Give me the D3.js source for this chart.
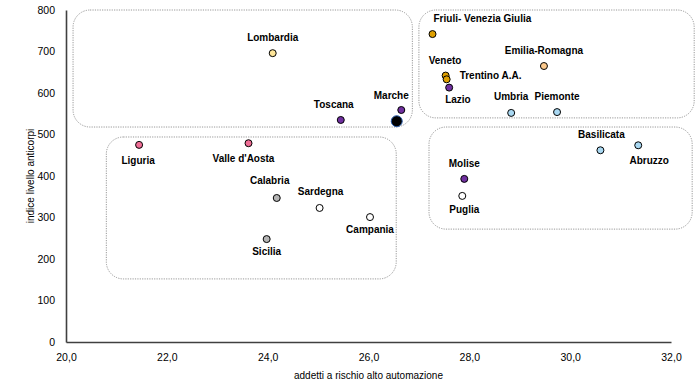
<!doctype html>
<html lang="it">
<head>
<meta charset="UTF-8">
<title>Scatter</title>
<script src="https://cdn.jsdelivr.net/npm/d3@7"></script>
<style>
  body { margin: 0; background: #fff; }
  text { font-family: "Liberation Sans Narrow", "Arial Narrow", "Liberation Sans", Arial, sans-serif; }
</style>
</head>
<body>
<svg width="700" height="384" id="chart"></svg>
<script>
// regions
var regions = ['Lombardia', 'Toscana', 'Liguria', "Valle d'Aosta", 'Calabria', 'Sardegna', 'Sicilia', 'Campania',
  'Marche', 'Italia', 'Friuli- Venezia Giulia', 'Veneto', 'Trentino A.A.', 'Lazio', 'Emilia-Romagna',
  'Umbria', 'Piemonte', 'Basilicata', 'Abruzzo', 'Molise', 'Puglia'];
// addetti a rischio alto automazione (%)
var automazione = [24.1, 25.45, 21.45, 23.62, 24.18, 25.03, 23.98, 26.03,
  26.65, 26.56, 27.27, 27.53, 27.55, 27.6, 29.48,
  28.83, 29.74, 30.6, 31.35, 27.9, 27.86];
// indice livello anticorpi
var anticorpi = [696, 535, 475, 479, 347, 323, 248, 301,
  559, 532, 742, 642, 633, 613, 665,
  552, 554, 462, 474, 393, 352];
// colour group of each region
var gruppo = ['lomb', 'viola', 'rosa', 'rosa', 'grigio', 'bianco', 'grigio', 'bianco',
  'viola', 'italia', 'oro', 'oro', 'oro', 'viola', 'pesca',
  'azzurro', 'azzurro', 'azzurro', 'azzurro', 'viola', 'bianco'];

var xTicks = [20, 22, 24, 26, 28, 30, 32];
var yTicks = [0, 100, 200, 300, 400, 500, 600, 700, 800];

// dotted cluster boxes, in data units [x0, x1, y0, y1]
var boxes = [
  [20.14, 26.87, 518, 800],
  [27.0, 32.46, 540, 800],
  [20.8, 26.55, 152, 494],
  [27.2, 32.42, 272, 518]
];

var colori = {
  lomb: '#ffe699', viola: '#7030a0', rosa: '#f06e96', grigio: '#b4b4b4', bianco: '#ffffff',
  italia: '#000000', oro: '#dfa000', pesca: '#fcc98c', azzurro: '#a9d8f2'
};

// label placement: anchor, dx, dy
var etichette = {
  'Lombardia': ['middle', 0, -12], 'Toscana': ['middle', -7, -12], 'Liguria': ['middle', -1, 19],
  "Valle d'Aosta": ['middle', -5, 19], 'Calabria': ['middle', -7, -14], 'Sardegna': ['middle', 1, -13],
  'Sicilia': ['middle', 0, 16], 'Campania': ['middle', 0, 16], 'Marche': ['middle', -10, -11],
  'Italia': null, 'Friuli- Venezia Giulia': ['start', 1, -12], 'Veneto': ['start', -17, -12],
  'Trentino A.A.': ['start', 13, 0], 'Lazio': ['start', -4, 15], 'Emilia-Romagna': ['middle', 0, -12],
  'Umbria': ['middle', 0, -13], 'Piemonte': ['middle', 0, -12], 'Basilicata': ['middle', 1, -12],
  'Abruzzo': ['middle', 11, 19], 'Molise': ['middle', 0, -12], 'Puglia': ['middle', 2, 17]
};

var svg = d3.select('#chart'),
  margin = {top: 10, right: 29, bottom: 42, left: 66},
  width = +svg.attr('width') - margin.left - margin.right,
  height = +svg.attr('height') - margin.top - margin.bottom;

var x = d3.scaleLinear().domain([20, 32]).range([0, width]),
  y = d3.scaleLinear().domain([0, 800]).range([height, 0]);

var g = svg.append('g').attr('transform', 'translate(' + margin.left + ',' + margin.top + ')');

g.selectAll('.box').data(boxes).enter().append('rect').attr('class', 'box')
  .attr('x', function (d) { return x(d[0]); })
  .attr('y', function (d) { return y(d[3]); })
  .attr('width', function (d) { return x(d[1]) - x(d[0]); })
  .attr('height', function (d) { return y(d[2]) - y(d[3]); })
  .attr('rx', 17).attr('ry', 17)
  .attr('fill', 'none')
  .attr('stroke', '#8c8c8c')
  .attr('stroke-width', 0.9)
  .attr('stroke-dasharray', '1.2,1.2');

var fmt = function (d) { return d3.format('.1f')(d).replace('.', ','); };

var xAxis = g.append('g')
  .attr('transform', 'translate(0,' + height + ')')
  .call(d3.axisBottom(x).tickValues(xTicks).tickSize(0).tickPadding(12).tickFormat(fmt));
var yAxis = g.append('g')
  .call(d3.axisLeft(y).tickValues(yTicks).tickSize(0).tickPadding(11));

[xAxis, yAxis].forEach(function (a) {
  a.select('.domain').attr('stroke', '#404040').attr('stroke-width', 1.6);
  a.selectAll('text').attr('font-size', 10.5).attr('fill', '#000');
});

g.append('text')
  .attr('x', width / 2).attr('y', height + 37)
  .attr('text-anchor', 'middle').attr('font-size', 10)
  .text('addetti a rischio alto automazione');

g.append('text')
  .attr('transform', 'rotate(-90)')
  .attr('x', -y(400)).attr('y', -32)
  .attr('text-anchor', 'middle').attr('font-size', 10)
  .text('indice livello anticorpi');

var data = regions.map(function (r, i) {
  return {name: r, x: automazione[i], y: anticorpi[i], group: gruppo[i]};
});

g.selectAll('.dot').data(data).enter().append('circle').attr('class', 'dot')
  .attr('cx', function (d) { return x(d.x); })
  .attr('cy', function (d) { return y(d.y); })
  .attr('r', function (d) { return d.group === 'italia' ? 5.5 : 3.5; })
  .attr('fill', function (d) { return colori[d.group]; })
  .attr('stroke', function (d) { return d.group === 'italia' ? '#2a5caa' : '#000'; })
  .attr('stroke-width', 1);

g.selectAll('.lbl').data(data.filter(function (d) { return etichette[d.name]; }))
  .enter().append('text').attr('class', 'lbl')
  .attr('x', function (d) { return x(d.x) + etichette[d.name][1]; })
  .attr('y', function (d) { return y(d.y) + etichette[d.name][2]; })
  .attr('text-anchor', function (d) { return etichette[d.name][0]; })
  .attr('font-size', 10)
  .attr('font-weight', 'bold')
  .text(function (d) { return d.name; });
</script>
</body>
</html>
